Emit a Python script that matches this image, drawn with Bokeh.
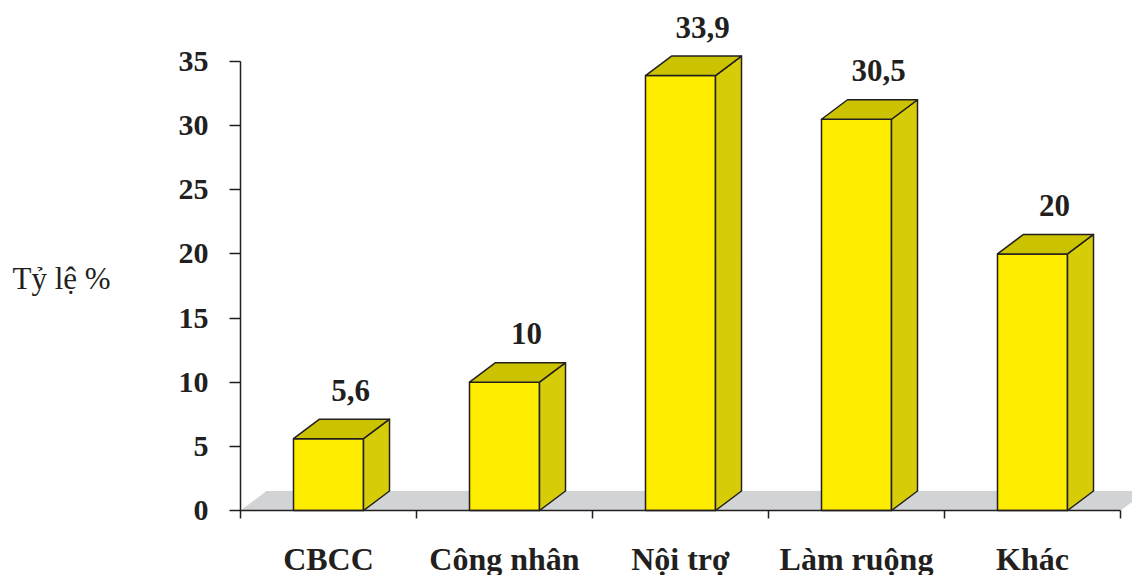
from bokeh.plotting import figure
from bokeh.models import Range1d, FixedTicker, ColumnDataSource
from bokeh.embed import file_html
from bokeh.resources import INLINE
from bokeh.core.properties import value

# Occupation breakdown (%)
categories = ["CBCC", "Công nhân", "Nội trợ", "Làm ruộng", "Khác"]
rates = [5.6, 10, 33.9, 30.5, 20]
rate_labels = ["5,6", "10", "33,9", "30,5", "20"]
y_ticks = [0, 5, 10, 15, 20, 25, 30, 35]
y_title = "Tỷ lệ %"

# ---- geometry (pixels -> data units) ----
W, H = 1132, 575
ORIGIN_X, ORIGIN_Y = 240, 510     # canvas position of the (0, 0) corner
SLOT_PX = 176.0                   # width of one category slot
UNIT_PX = 449.0 / 35.0            # pixels per percentage point

x_start = -ORIGIN_X / SLOT_PX
x_end = (W - ORIGIN_X) / SLOT_PX
y_start = -(H - ORIGIN_Y) / UNIT_PX
y_end = ORIGIN_Y / UNIT_PX

bar_half = 35.0 / SLOT_PX   # half width of the bar front face
depth_x = 26.0 / SLOT_PX    # 3D depth offset, horizontal
depth_y = 19.5 / UNIT_PX    # 3D depth offset, vertical
label_dx = 22.0 / SLOT_PX
label_gap = 29.0 / UNIT_PX
title_x = -228.0 / SLOT_PX  # left edge of the y title
title_y = 232.0 / UNIT_PX   # anchor height of the y title

FRONT = "#FFED00"
SIDE = "#D6CD08"
TOP = "#CCC300"
FLOOR = "#D1D3D4"
INK = "#231F20"
SERIF = "Liberation Serif"

n = len(categories)
centers = [i + 0.5 for i in range(n)]
bounds = list(range(n + 1))

p = figure(width=W, height=H, output_backend="svg", toolbar_location=None,
           x_range=Range1d(x_start, x_end), y_range=Range1d(y_start, y_end),
           min_border=0)
p.outline_line_color = None
p.xgrid.visible = False
p.ygrid.visible = False
p.background_fill_color = "white"
p.border_fill_color = "white"

# floor of the 3D chart
p.patch([0, n, n + depth_x, depth_x], [0, 0, depth_y, depth_y],
        fill_color=FLOOR, line_color=None)

# bar front faces
front = ColumnDataSource(dict(
    left=[c - bar_half for c in centers],
    right=[c + bar_half for c in centers],
    top=rates,
))
p.quad(left="left", right="right", bottom=0, top="top", source=front,
       fill_color=FRONT, line_color=INK, line_width=1.5)

# side and top faces
side_xs, side_ys, top_xs, top_ys = [], [], [], []
for c, v in zip(centers, rates):
    l, r = c - bar_half, c + bar_half
    side_xs.append([r, r + depth_x, r + depth_x, r])
    side_ys.append([0, depth_y, v + depth_y, v])
    top_xs.append([l, l + depth_x, r + depth_x, r])
    top_ys.append([v, v + depth_y, v + depth_y, v])
p.patches(side_xs, side_ys, fill_color=SIDE, line_color=INK, line_width=1.5,
          line_join="round")
p.patches(top_xs, top_ys, fill_color=TOP, line_color=INK, line_width=1.5,
          line_join="round")

# value labels above each bar
lab = ColumnDataSource(dict(
    x=[c + label_dx for c in centers],
    y=[v + depth_y + label_gap for v in rates],
    t=rate_labels,
))
p.text(x="x", y="y", text="t", source=lab, text_align="center",
       text_baseline="alphabetic", text_font=value(SERIF),
       text_font_style="bold", text_font_size="31px", text_color=INK)

# y title, horizontal, left of the tick labels
p.text(x=[title_x], y=[title_y], text=[y_title], text_align="left",
       text_baseline="alphabetic", text_font=value(SERIF),
       text_font_size="31px", text_color=INK)

# y axis pinned at x = 0
ya = p.yaxis[0]
ya.fixed_location = 0
ya.ticker = FixedTicker(ticks=y_ticks, minor_ticks=[])
ya.bounds = (0, 35)
ya.axis_line_color = INK
ya.axis_line_width = 1.5
ya.major_tick_in = 0
ya.major_tick_out = 11
ya.major_tick_line_color = INK
ya.major_tick_line_width = 1.5
ya.minor_tick_in = 0
ya.minor_tick_out = 0
ya.major_label_standoff = 21
ya.major_label_text_font = SERIF
ya.major_label_text_font_style = "bold"
ya.major_label_text_font_size = "30px"
ya.major_label_text_color = INK

# x axis pinned at y = 0: names under slot centres, marks at slot boundaries
xa = p.xaxis[0]
xa.fixed_location = 0
xa.ticker = FixedTicker(ticks=centers, minor_ticks=bounds)
xa.bounds = (0, n)
xa.axis_line_color = INK
xa.axis_line_width = 1.5
xa.major_tick_in = 0
xa.major_tick_out = 0
xa.minor_tick_in = 0
xa.minor_tick_out = 8
xa.minor_tick_line_color = INK
xa.minor_tick_line_width = 1.5
xa.major_label_overrides = {c: name for c, name in zip(centers, categories)}
xa.major_label_standoff = 22
xa.major_label_text_font = SERIF
xa.major_label_text_font_style = "bold"
xa.major_label_text_font_size = "32px"
xa.major_label_text_color = INK

open("out.html", "w").write(file_html(p, INLINE))
